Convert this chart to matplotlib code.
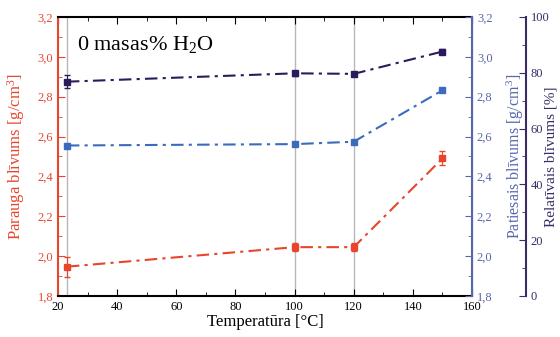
import matplotlib
matplotlib.use('Agg')
import matplotlib.pyplot as plt
from matplotlib.ticker import MultipleLocator, FuncFormatter

plt.rcParams['font.family'] = ['Liberation Serif', 'DejaVu Serif']
plt.rcParams['mathtext.fontset'] = 'custom'
plt.rcParams['mathtext.rm'] = 'Liberation Serif'
plt.rcParams['mathtext.it'] = 'Liberation Serif:italic'
plt.rcParams['mathtext.bf'] = 'Liberation Serif:bold'

# data
temp = [23, 100, 120, 150]
parauga = [1.947, 2.045, 2.045, 2.49]
parauga_err = [0.05, 0.02, 0.02, 0.035]
patiesais = [2.555, 2.562, 2.574, 2.832]
patiesais_err = [0.006, 0.006, 0.006, 0.006]
relativais = [76.8, 79.8, 79.6, 87.6]
relativais_err = [2.4, 0.8, 0.8, 0.8]
vlines = [23, 100, 120]

red = '#e8452c'
blue = '#3b6bbf'
purple = '#2b1b5c'
blue_ax = '#5866ad'
purple_ax = '#3a2b66'

comma = FuncFormatter(lambda v, p: ('%.1f' % v).replace('.', ','))

fig = plt.figure(figsize=(5.6, 3.37), dpi=100)
ax = fig.add_axes([0.1036, 0.1217, 0.7393, 0.828])
ax2 = ax.twinx()
ax3 = ax.twinx()
ax3.spines['right'].set_position(('axes', 1.13))

for x in vlines:
    ax.axvline(x, color='#b8b8b8', lw=1.0, zorder=0)

dash = (0, (6, 2.5, 1.5, 2.5))
ax.errorbar(temp, parauga, yerr=parauga_err, color=red, marker='s', ms=5,
            ls=dash, lw=1.5, capsize=2, elinewidth=0.8)
ax2.errorbar(temp, patiesais, yerr=patiesais_err, color=blue, marker='s', ms=5,
             ls=dash, lw=1.5, capsize=2, elinewidth=0.8)
ax3.errorbar(temp, relativais, yerr=relativais_err, color=purple, marker='s', ms=5,
             ls=dash, lw=1.5, capsize=2, elinewidth=0.8)

ax.set_xlim(20, 160)
ax.set_ylim(1.8, 3.2)
ax2.set_ylim(1.8, 3.2)
ax3.set_ylim(0, 100)

ax.xaxis.set_major_locator(MultipleLocator(20))
ax.xaxis.set_minor_locator(MultipleLocator(10))
for a in (ax, ax2):
    a.yaxis.set_major_locator(MultipleLocator(0.2))
    a.yaxis.set_minor_locator(MultipleLocator(0.1))
    a.yaxis.set_major_formatter(comma)
ax3.yaxis.set_major_locator(MultipleLocator(20))
ax3.yaxis.set_minor_locator(MultipleLocator(10))

ax.tick_params(axis='x', which='both', direction='in', top=True, labelsize=9)
ax.tick_params(axis='x', which='major', length=5)
ax.tick_params(axis='x', which='minor', length=3)
ax.tick_params(axis='y', which='both', direction='in', colors=red, labelsize=9)
ax.tick_params(axis='y', which='major', length=5)
ax.tick_params(axis='y', which='minor', length=3)
ax2.tick_params(axis='y', which='both', direction='in', colors=blue_ax, labelsize=9)
ax2.tick_params(axis='y', which='major', length=5)
ax2.tick_params(axis='y', which='minor', length=3)
ax3.tick_params(axis='y', which='both', direction='in', colors=purple_ax, labelsize=9)
ax3.tick_params(axis='y', which='major', length=5)
ax3.tick_params(axis='y', which='minor', length=3)

ax.spines['left'].set_color(red)
ax.spines['left'].set_linewidth(1.5)
ax.spines['bottom'].set_linewidth(1.5)
ax.spines['top'].set_linewidth(1.5)
ax2.spines['left'].set_visible(False)
ax3.spines['left'].set_visible(False)
ax2.spines['right'].set_color(blue_ax)
ax2.spines['right'].set_linewidth(1.5)
ax3.spines['right'].set_color(purple_ax)
ax3.spines['right'].set_linewidth(1.5)
for a in (ax2, ax3):
    a.spines['top'].set_visible(False)
    a.spines['bottom'].set_visible(False)

ax.set_xlabel('Temperatūra [°C]', fontsize=12, labelpad=1)
ax.set_ylabel('Parauga blīvums [g/cm$^\\mathrm{3}$]', color=red, fontsize=12)
ax.yaxis.set_label_coords(-0.075, 0.5)
ax2.set_ylabel('Patiesais blīvums [g/cm$^\\mathrm{3}$]', color=blue_ax, fontsize=11.5)
ax2.yaxis.set_label_coords(1.078, 0.5)
ax3.set_ylabel('Relatīvais blīvums [%]', color=purple_ax, fontsize=11)
ax3.yaxis.set_label_coords(1.176, 0.5)

ax.text(0.045, 0.90, '0 masas% H$_\\mathrm{2}$O', transform=ax.transAxes,
        fontsize=16, va='center', ha='left')

plt.savefig('out.png', dpi=100)
